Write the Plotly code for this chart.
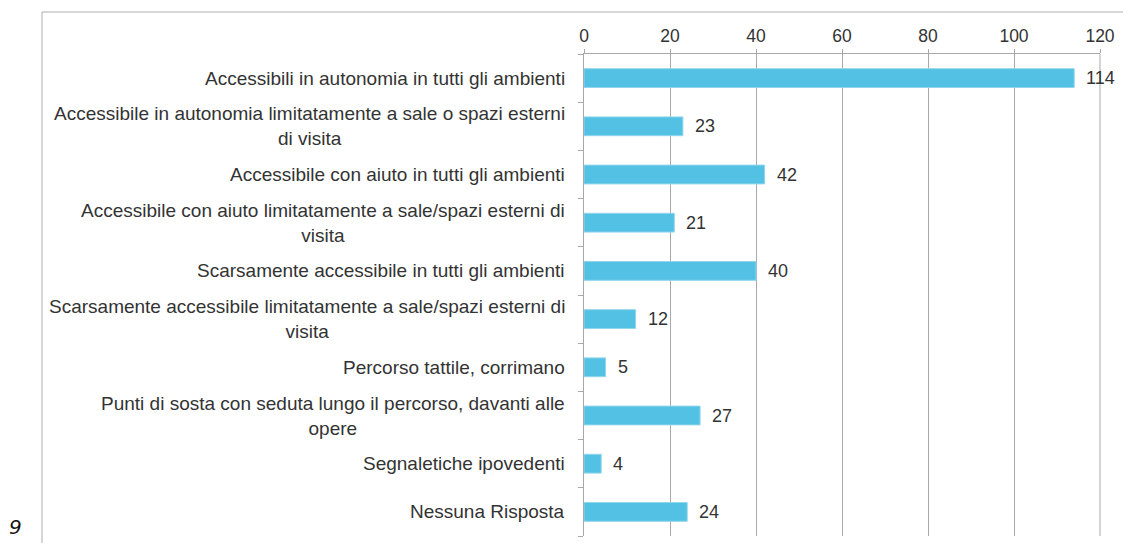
import plotly.graph_objects as go

categories = [
    "Accessibili in autonomia in tutti gli ambienti",
    "Accessibile in autonomia limitatamente a sale o spazi esterni<br>di visita",
    "Accessibile con aiuto in tutti gli ambienti",
    "Accessibile con aiuto limitatamente a sale/spazi esterni di<br>visita",
    "Scarsamente accessibile in tutti gli ambienti",
    "Scarsamente accessibile limitatamente a sale/spazi esterni di<br>visita",
    "Percorso tattile, corrimano",
    "Punti di sosta con seduta lungo il percorso, davanti alle<br>opere",
    "Segnaletiche ipovedenti",
    "Nessuna Risposta",
]
values = [114, 23, 42, 21, 40, 12, 5, 27, 4, 24]
x_ticks = [0, 20, 40, 60, 80, 100, 120]
page_label = "9"

ids = list(range(len(categories)))

# page body has an 8px margin; figure coordinates are screen minus 8
W, H = 1123, 535
ml, mr, mt, mb = 576, 31, 46, 7
pw, ph = W - ml - mr, H - mt - mb


def px_x(x):
    return (x - ml) / pw


def px_y(y):
    return 1 - (y - mt) / ph


FONT = "Liberation Sans, Arial"

fig = go.Figure()
fig.add_trace(go.Bar(
    y=ids, x=values, orientation="h", width=0.39,
    marker=dict(color="#52c1e3", line=dict(color="#92d6ed", width=1)),
    hoverinfo="skip",
))

annotations = []
for i, (c, v) in enumerate(zip(categories, values)):
    annotations.append(dict(
        x=0, y=i, xref="x", yref="y", text=c, showarrow=False,
        xanchor="right", yanchor="middle", align="center", xshift=-17,
        font=dict(family=FONT, size=19, color="#333333"),
    ))
    annotations.append(dict(
        x=v, y=i, xref="x", yref="y", text=str(v), showarrow=False,
        xanchor="left", yanchor="middle", xshift=10,
        font=dict(family=FONT, size=18, color="#333333"),
    ))
annotations.append(dict(
    x=px_x(7), y=px_y(519), xref="paper", yref="paper",
    text="<i>" + page_label + "</i>", showarrow=False,
    xanchor="center", yanchor="middle",
    font=dict(family="DejaVu Sans", size=20, color="#111111"),
))

fig.update_layout(
    width=W, height=H,
    margin=dict(l=ml, r=mr, t=mt, b=mb),
    plot_bgcolor="white", paper_bgcolor="white",
    showlegend=False,
    annotations=annotations,
    xaxis=dict(
        side="top", range=[0, 120], tickvals=x_ticks,
        showgrid=True, gridcolor="#a8a8a8", gridwidth=1,
        showline=True, linecolor="#a8a8a8", linewidth=1,
        ticks="outside", ticklen=4, tickcolor="#a8a8a8",
        tickfont=dict(family=FONT, size=17.5, color="#333333"),
        zeroline=False, fixedrange=True,
    ),
    yaxis=dict(
        range=[len(categories) - 0.5, -0.5],
        tickvals=[i + 0.5 for i in range(-1, len(categories))],
        ticktext=[""] * (len(categories) + 1),
        ticks="outside", ticklen=5, tickcolor="#a8a8a8",
        showline=True, linecolor="#a8a8a8", linewidth=1,
        showgrid=False, zeroline=False, fixedrange=True,
    ),
    shapes=[
        dict(type="line", xref="paper", yref="paper",
             x0=px_x(34), x1=px_x(W + 10), y0=px_y(4), y1=px_y(4),
             line=dict(color="#c8c8c8", width=1.5)),
        dict(type="line", xref="paper", yref="paper",
             x0=px_x(34), x1=px_x(34), y0=px_y(4), y1=px_y(H + 10),
             line=dict(color="#c8c8c8", width=1.5)),
        dict(type="line", xref="paper", yref="paper",
             x0=1, x1=1, y0=0, y1=1,
             line=dict(color="#a8a8a8", width=1)),
    ],
)

fig.write_html("out.html")
